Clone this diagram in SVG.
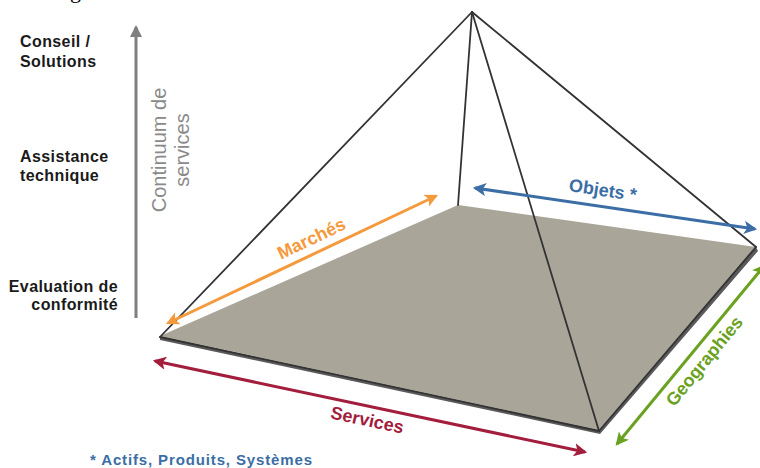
<svg xmlns="http://www.w3.org/2000/svg" width="760" height="468" viewBox="0 0 760 468">
<style>
.lbl{font-family:"Liberation Sans",Arial,sans-serif;font-weight:bold;font-size:16px;letter-spacing:0.4px;fill:#1a1a1a}
.ax{font-family:"Liberation Sans",Arial,sans-serif;font-weight:bold;font-size:18px}
.edge{stroke:#333;stroke-width:1.8;fill:none;stroke-linecap:round}
.arr{stroke-width:3;fill:none}
</style>
<defs>
<marker id="mO" viewBox="0 0 12 12" refX="10" refY="6" markerWidth="4.4" markerHeight="4.4" orient="auto-start-reverse" markerUnits="strokeWidth"><path d="M0,0 L12,6 L0,12 L3,6 z" fill="#f59a3c"/></marker>
<marker id="mB" viewBox="0 0 12 12" refX="10" refY="6" markerWidth="4.4" markerHeight="4.4" orient="auto-start-reverse" markerUnits="strokeWidth"><path d="M0,0 L12,6 L0,12 L3,6 z" fill="#3a6ea5"/></marker>
<marker id="mR" viewBox="0 0 12 12" refX="10" refY="6" markerWidth="4.4" markerHeight="4.4" orient="auto-start-reverse" markerUnits="strokeWidth"><path d="M0,0 L12,6 L0,12 L3,6 z" fill="#a31d3d"/></marker>
<marker id="mG" viewBox="0 0 12 12" refX="10" refY="6" markerWidth="4.4" markerHeight="4.4" orient="auto-start-reverse" markerUnits="strokeWidth"><path d="M0,0 L12,6 L0,12 L3,6 z" fill="#6aa121"/></marker>
<marker id="mV" viewBox="0 0 12 12" refX="10" refY="6" markerWidth="4" markerHeight="4" orient="auto" markerUnits="strokeWidth"><path d="M0,0 L12,6 L0,12 z" fill="#7f7f7f"/></marker>
</defs>
<rect width="760" height="468" fill="#fff"/>
<text x="70" y="-2" font-family="Liberation Serif,serif" font-size="22" fill="#000">g</text>

<g id="levels">
<text class="lbl" x="20" y="47">Conseil /</text>
<text class="lbl" x="20" y="66.5">Solutions</text>
<text class="lbl" x="20" y="161.5">Assistance</text>
<text class="lbl" x="20" y="181">technique</text>
<text class="lbl" x="118" y="291.5" text-anchor="end">Evaluation de</text>
<text class="lbl" x="118" y="310" text-anchor="end">conformité</text>
</g>

<g id="continuum">
<line x1="136" y1="318" x2="136" y2="27" stroke="#7f7f7f" stroke-width="3" marker-end="url(#mV)"/>
<text transform="translate(0,150) rotate(-90)" x="0" y="0" font-family="Liberation Sans,Arial,sans-serif" font-size="20" fill="#8a8a8a" text-anchor="middle"><tspan x="0" y="166">Continuum de</tspan><tspan x="0" y="189">services</tspan></text>
</g>

<g id="pyramid">
<polygon points="160,336 599,430 756,247 758,251 600,434 160,340" fill="#5a5a5a"/>
<polygon points="458,205 756,247 599,430 160,336" fill="#a9a598"/>
<line class="edge" x1="160" y1="337" x2="599" y2="431" stroke="#4a4a4a" stroke-width="1.3"/>
<line class="edge" x1="599" y1="431" x2="756" y2="247" stroke="#4a4a4a" stroke-width="1.3"/>
<line class="edge" x1="472" y1="12" x2="160" y2="337"/>
<line class="edge" x1="472" y1="12" x2="458" y2="205"/>
<line class="edge" x1="472" y1="12" x2="599" y2="431"/>
<line class="edge" x1="472" y1="12" x2="756" y2="247"/>
</g>

<g id="connectors">
<line class="arr" x1="168" y1="323" x2="436" y2="196" stroke="#f59a3c" marker-start="url(#mO)" marker-end="url(#mO)"/>
<line class="arr" x1="475" y1="188" x2="755" y2="229" stroke="#3a6ea5" marker-start="url(#mB)" marker-end="url(#mB)"/>
<line class="arr" x1="155" y1="361" x2="585" y2="452" stroke="#a31d3d" marker-start="url(#mR)" marker-end="url(#mR)"/>
<line class="arr" x1="764" y1="266" x2="617" y2="444" stroke="#6aa121" marker-start="url(#mG)" marker-end="url(#mG)"/>
</g>

<g id="marches"><text class="ax" fill="#f59a3c" text-anchor="middle" transform="translate(314,244) rotate(-25.5)">Marchés</text></g>
<g id="objets"><text class="ax" fill="#3a6ea5" text-anchor="middle" transform="translate(602,196) rotate(8.4)">Objets *</text></g>
<g id="services"><text class="ax" fill="#a31d3d" text-anchor="middle" transform="translate(366,426) rotate(12)">Services</text></g>
<g id="geographies"><text class="ax" fill="#6aa121" text-anchor="middle" transform="translate(709,365) rotate(-50.7)">Geographies</text></g>

<text x="90" y="465" font-family="Liberation Sans,Arial,sans-serif" font-weight="bold" font-size="15" fill="#3a6ea5" textLength="222">* Actifs, Produits, Systèmes</text>
</svg>
